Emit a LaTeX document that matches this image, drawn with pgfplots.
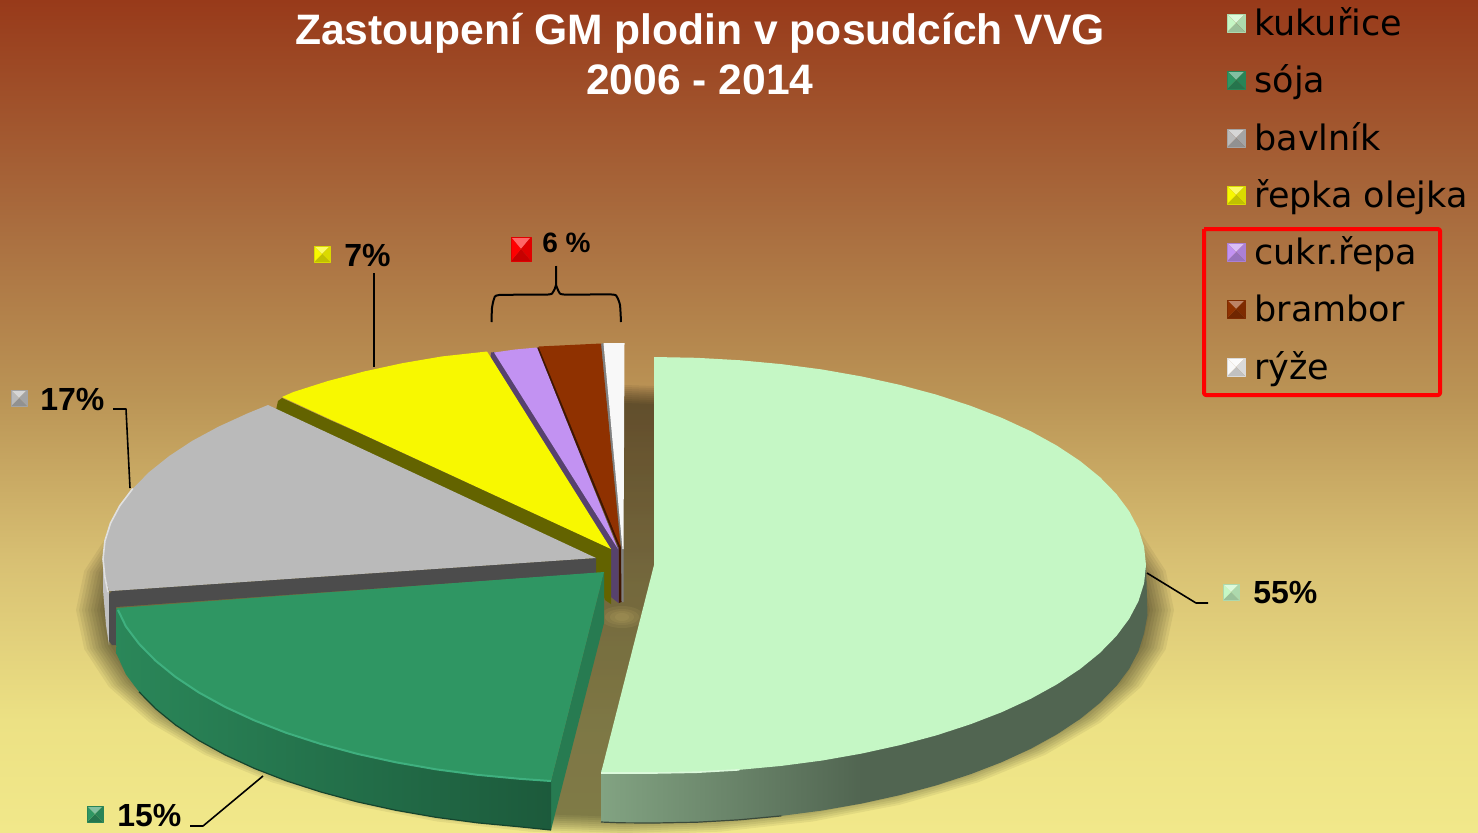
\documentclass[border=0pt]{standalone}
\usepackage{fontspec}
\setmainfont{Liberation Sans}
\newfontfamily\legfont{DejaVu Sans}
\usepackage{pgfplots}
\usepackage{pgfplotstable}
\pgfplotsset{compat=1.18}
\definecolor{bgA}{HTML}{983A1A}
\definecolor{bgB}{HTML}{A96C3E}
\definecolor{bgC}{HTML}{BB9556}
\definecolor{bgD}{HTML}{D8C073}
\definecolor{bgE}{HTML}{ECE184}
\definecolor{bgF}{HTML}{F1E88A}
\definecolor{corn}{HTML}{C5F7C5}
\definecolor{cornside}{HTML}{516551}
\definecolor{soy}{HTML}{2F9663}
\definecolor{soyrim}{HTML}{3FB07F}
\definecolor{cotton}{HTML}{BABABA}
\definecolor{rape}{HTML}{F8F800}
\definecolor{beet}{HTML}{C292F2}
\definecolor{potato}{HTML}{8F3100}
\definecolor{rice}{HTML}{F8F8F8}
\pgfplotstableread{
x y
-1 -1
1 -1
0 0
}\facetT
\pgfplotstableread{
x y
1 -1
1 1
0 0
}\facetR
\pgfplotstableread{
x y
-1 1
1 1
0 0
}\facetB
\pgfplotstableread{
x y
-1 -1
-1 1
0 0
}\facetL
\pgfplotstableread{
x y
-1 -1
1 -1
1 1
-1 1
-1 -1
}\facetS
\pgfplotstableread{
c s
1 0
.985 .174
.940 .342
.866 .5
.766 .643
.643 .766
.5 .866
.342 .940
.174 .985
0 1
-.174 .985
-.342 .940
-.5 .866
-.643 .766
-.766 .643
-.866 .5
-.940 .342
-.985 .174
-1 0
-.985 -.174
-.940 -.342
-.866 -.5
-.766 -.643
-.643 -.766
-.5 -.866
-.342 -.940
-.174 -.985
0 -1
.174 -.985
.342 -.940
.5 -.866
.643 -.766
.766 -.643
.866 -.5
.940 -.342
.985 -.174
}\unitring
\newcommand\blob[5]{\addplot[draw=none,fill=#5] table[x expr=#1+#3*\thisrow{c},y expr=#2+#4*\thisrow{s}] {\unitring};}
\newcommand\bevel[5]{%
\addplot[draw=none,fill=#5!60!white] table[x expr=#1+#3*\thisrow{x},y expr=#2+#4*\thisrow{y}] {\facetT};
\addplot[draw=none,fill=#5!88!black] table[x expr=#1+#3*\thisrow{x},y expr=#2+#4*\thisrow{y}] {\facetR};
\addplot[draw=none,fill=#5!78!black] table[x expr=#1+#3*\thisrow{x},y expr=#2+#4*\thisrow{y}] {\facetB};
\addplot[draw=none,fill=#5] table[x expr=#1+#3*\thisrow{x},y expr=#2+#4*\thisrow{y}] {\facetL};
\addplot[draw=#5!88!black,line width=.5pt] table[x expr=#1+#3*\thisrow{x},y expr=#2+#4*\thisrow{y}] {\facetS};
}
\begin{document}
\begin{tikzpicture}
\begin{axis}[at={(0,0)},anchor=south west,scale only axis,width=739pt,height=416pt,
  xmin=0,xmax=1478,ymin=0,ymax=832,y dir=reverse,hide axis,clip=true,no markers,
  every axis plot/.append style={line join=round}]
% background
\addplot[draw=none,shade,top color=bgA,bottom color=bgB] coordinates {(0,0)(1478,0)(1478,221)(0,221)};
\addplot[draw=none,shade,top color=bgB,bottom color=bgC] coordinates {(0,220)(1478,220)(1478,401)(0,401)};
\addplot[draw=none,shade,top color=bgC,bottom color=bgD] coordinates {(0,400)(1478,400)(1478,561)(0,561)};
\addplot[draw=none,shade,top color=bgD,bottom color=bgE] coordinates {(0,560)(1478,560)(1478,721)(0,721)};
\addplot[draw=none,shade,top color=bgE,bottom color=bgF] coordinates {(0,720)(1478,720)(1478,832)(0,832)};
% soft shadow
\blob{625}{610}{549}{225}{black,fill opacity=.06}
\blob{625}{610}{546}{223}{black,fill opacity=.06}
\blob{625}{610}{543}{221}{black,fill opacity=.06}
\blob{625}{610}{540}{219}{black,fill opacity=.06}
\blob{625}{610}{537}{217}{black,fill opacity=.06}
\blob{625}{610}{534}{215}{black,fill opacity=.06}
\blob{625}{610}{531}{213}{black,fill opacity=.06}
\blob{625}{610}{528}{211}{black,fill opacity=.06}
\blob{625}{610}{525}{209}{black,fill opacity=.06}
\blob{625}{610}{522}{207}{black,fill opacity=.06}
\blob{622}{617}{22}{11}{bgD,fill opacity=.10}
\blob{622}{617}{17}{8}{bgD,fill opacity=.10}
\blob{622}{617}{12}{6}{bgD,fill opacity=.10}
\blob{622}{617}{7}{4}{bgD,fill opacity=.10}
% rice
\addplot[draw=none,fill=gray] coordinates {(600.5,344)(603.5,343)(623.5,548)(623.5,602)(621,602)(621,548)};
\addplot[draw=none,fill=rice] coordinates {(603.5,343)(624.5,343)(623.5,549)(622.5,549)};
% potato
\addplot[draw=none,fill=potato!45!black] coordinates {(536,348)(540,347)(621,547)(621.5,602)(618.5,603)(618.5,547)};
\addplot[draw=none,fill=potato] coordinates {(538.5,346.5)(601,343.5)(620.5,547)};
% beet
\addplot[draw=none,fill=beet!45!black] coordinates {(491,352.5)(495,352)(618.5,548)(618.5,603)(611,597)(610.5,551)(490.5,357)};
\addplot[draw=none,fill=beet] coordinates {(494,352.5)(515,349.5)(537,347.5)(618,549)};
% rape
\addplot[draw=none,fill=rape!40!black] coordinates {(278,401)(282,398)(611,549)(611,604)(605,600)(596,572)(596,565)(276,410)};
\addplot[draw=none,fill=rape] coordinates {(611,549)(282,397)(293.4,392)(327.6,381.1)(364,371.5)(402.2,363.2)(442.1,356.4)(487,351.5)};
% cotton
\addplot[draw=none,fill=cotton!90!white] coordinates {(103,559)(104.9,577)(109,592)(109,645)(106,625)(103,590)};
\addplot[draw=none,fill=black!70] coordinates {(109,594)(112,591)(596,558)(596,573)(116,607)(116,645)(112,645)(109,641)};
\addplot[draw=none,fill=cotton] coordinates {(596,558)(111,591)(109.1,591)(104.9,577)(103,559)(104.9,541)(110.5,523.2)(119.8,505.7)(132.8,488.5)(149.3,471.9)(169.2,456)(192.3,440.8)(218.6,426.6)(247.7,413.3)(268,405)};
\addplot[cotton!45!white,line width=.8pt] coordinates {(108,592)(104.9,577)(103,559)(104.9,541)(110.5,523.2)(119.8,505.7)(132.8,488.5)};
% soy
\addplot[draw=none,fill=soy!82!black] coordinates {(604,572)(604,623)(551,830)(551,781)};
\addplot[draw=none,shade,left color=soy!90!black,middle color=soy!82!black,right color=soy!60!black] coordinates {(116,609)(116.6,654)(125.9,674.4)(139,691.8)(155.6,708.7)(175.6,725)(198.9,740.5)(225.3,755)(254.6,768.5)(286.5,780.9)(320.9,792)(357.5,801.9)(396,810.3)(436,817.3)(477.4,822.8)(519.7,826.8)(551,830)(551,781)(400,700)};
\addplot[draw=none,fill=soy] coordinates {(604,572)(116.6,608)(125.9,626.4)(139,643.8)(155.6,660.7)(175.6,677)(198.9,692.5)(225.3,707)(254.6,720.5)(286.5,732.9)(320.9,744)(357.5,753.9)(396,762.3)(436,769.3)(477.4,774.8)(519.7,778.8)(551,781)};
\addplot[soyrim,line width=1pt] coordinates {(118,610)(125.9,626.4)(139,643.8)(155.6,660.7)(175.6,677)(198.9,692.5)(225.3,707)(254.6,720.5)(286.5,732.9)(320.9,744)(357.5,753.9)(396,762.3)(436,769.3)(477.4,774.8)(519.7,778.8)(551,781)};
\addplot[soy!45!black,line width=.6pt] coordinates {(139,691.8)(155.6,708.7)(175.6,725)(198.9,740.5)(225.3,755)(254.6,768.5)(286.5,780.9)(320.9,792)(357.5,801.9)(396,810.3)(436,817.3)(477.4,822.8)(519.7,826.8)(551,830)};
% corn
\addplot[draw=none,fill=cornside] coordinates {(1146,565)(1147.5,615)(1144.1,633.1)(1138.5,651.1)(1129.2,668.8)(1116.3,686.1)(1099.9,702.9)(1080.1,719)(1057,734.3)(1030.9,748.7)(1001.9,762.1)(970.3,774.3)(936.2,785.4)(900,795.1)(861.9,803.5)(850,780)(860,600)};
\addplot[draw=none,shade,left color=corn!66!black,middle color=corn!50!black,right color=cornside] coordinates {(601,770)(601,822)(620,822.8)(654,823)(696.9,822.2)(739.4,819.8)(781.3,815.9)(822.3,810.5)(861.9,803.5)(861.9,700)};
\addplot[draw=none,fill=corn] coordinates {(654,357)(696.9,357.8)(739.4,360.2)(781.3,364.1)(822.3,369.5)(861.9,376.5)(900,384.9)(936.2,394.6)(970.3,405.7)(1001.9,417.9)(1030.9,431.3)(1057,445.7)(1080.1,461)(1099.9,477.1)(1116.3,493.9)(1129.2,511.2)(1138.5,528.9)(1144.1,546.9)(1146,565)(1144.1,583.1)(1138.5,601.1)(1129.2,618.8)(1116.3,636.1)(1099.9,652.9)(1080.1,669)(1057,684.3)(1030.9,698.7)(1001.9,712.1)(970.3,724.3)(936.2,735.4)(900,745.1)(861.9,753.5)(822.3,760.5)(781.3,765.9)(739.4,769.8)(696.9,772.2)(654,773)(601,773)(654,565)};
\addplot[corn!60!white,line width=.8pt] coordinates {(601,773)(654,773)(696.9,772.2)(739.4,769.8)};
\addplot[corn!30!black,line width=.6pt] coordinates {(601,822)(620,822.8)(654,823)(696.9,822.2)(739.4,819.8)(781.3,815.9)};
% brace
\addplot[black,line width=1pt,smooth,tension=.35] coordinates {(491.5,322)(492,308)(494,299)(499,295)(548,294.5)(553,292)(556,285)(556,266)};
\addplot[black,line width=1pt,smooth,tension=.35] coordinates {(556,285)(559,292)(564,294.5)(612,294.5)(617,297)(620,305)(621,322)};
% leaders
\addplot[black,line width=.8pt] coordinates {(374,273)(374,367)};
\addplot[black,line width=.8pt] coordinates {(113,409)(126,409)(130,488)};
\addplot[black,line width=.8pt] coordinates {(190,826)(203,826)(263,776)};
\addplot[black,line width=.8pt] coordinates {(1147,573)(1196,603)(1208,603)};
% frame around the small crops
\addplot[red,line width=2pt,rounded corners=1pt] coordinates {(1204,229)(1440,229)(1440,395)(1204,395)(1204,229)};
% markers
\bevel{1236}{23}{9}{9}{corn}
\bevel{1236}{80}{9}{9}{soy}
\bevel{1236}{138}{9}{9}{cotton}
\bevel{1236}{195}{9}{9}{rape}
\bevel{1236}{252}{9}{9}{beet}
\bevel{1236}{309}{9}{9}{potato}
\bevel{1236}{367}{9}{9}{rice}
\bevel{1231}{592}{8}{8}{corn}
\bevel{95}{814}{8}{8}{soy}
\bevel{19}{398}{8}{8}{cotton}
\bevel{322}{254}{8}{8}{rape}
\bevel{521}{249}{10}{12}{red}
% text
\node[anchor=center,align=center,text=white,font=\fontsize{21.3}{25}\selectfont\bfseries,inner sep=0] at (axis cs:700,54) {Zastoupení GM plodin v posudcích VVG\\2006 - 2014};
\foreach \yy/\tt in {35/kukuřice,92/sója,150/bavlník,207/řepka olejka,264/cukr.řepa,321/brambor,379/rýže}{
  \edef\temp{\noexpand\node[anchor=base west,inner sep=0,font=\noexpand\legfont\noexpand\fontsize{17.5}{22}\noexpand\selectfont] at (axis cs:1254,\yy) {\tt};}\temp
}
\node[anchor=west,inner sep=0,font=\fontsize{16}{18}\selectfont\bfseries] at (axis cs:1253,593) {55\%};
\node[anchor=west,inner sep=0,font=\fontsize{16}{18}\selectfont\bfseries] at (axis cs:117,816) {15\%};
\node[anchor=west,inner sep=0,font=\fontsize{16}{18}\selectfont\bfseries] at (axis cs:40,399) {17\%};
\node[anchor=west,inner sep=0,font=\fontsize{16}{18}\selectfont\bfseries] at (axis cs:344,255) {7\%};
\node[anchor=west,inner sep=0,font=\fontsize{14}{16}\selectfont\bfseries] at (axis cs:542,243) {6 \%};
\end{axis}
\end{tikzpicture}
\end{document}
